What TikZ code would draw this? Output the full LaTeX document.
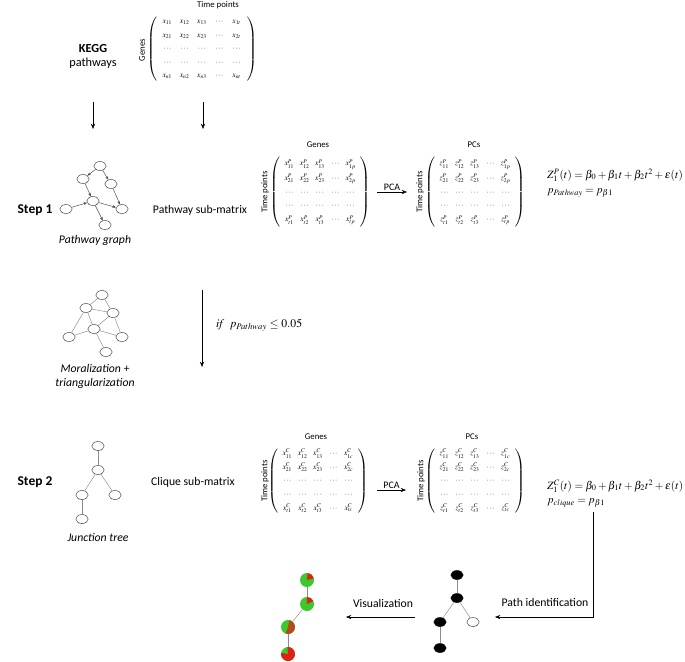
\documentclass[tikz,border=0pt]{standalone}
\usepackage{mathptmx}
\usepackage[no-math]{fontspec}
\setmainfont{Carlito}
\usetikzlibrary{positioning, arrows.meta, shapes.geometric, matrix}
\definecolor{piegreen}{HTML}{3CC82E}
\definecolor{piered}{HTML}{DD2216}
\definecolor{edgegray}{HTML}{8C8C8C}
\tikzset{
  txt/.style     = {font=\fontsize{10}{12}\selectfont, inner sep=1pt},
  steplbl/.style = {font=\fontsize{11.5}{13}\selectfont\bfseries, inner sep=1pt},
  capt/.style    = {font=\fontsize{10}{12}\selectfont\itshape, align=center, inner sep=1pt},
  axlbl/.style   = {font=\fontsize{7.5}{9}\selectfont, inner sep=1pt},
  eqn/.style     = {font=\fontsize{9.5}{10}\selectfont, anchor=west, inner sep=0pt},
  mat/.style     = {matrix of math nodes, left delimiter=(, right delimiter=),
                    inner sep=0pt,
                    nodes={font=\fontsize{6.5}{7}\selectfont, inner sep=0pt,
                           minimum width=0.46cm, minimum height=0.41cm}},
  gnode/.style   = {ellipse, draw=black!75, thin, minimum width=0.37cm,
                    minimum height=0.27cm, inner sep=0pt},
  bnode/.style   = {gnode, fill=black, draw=black},
  pie/.style     = {circle, fill=piegreen, minimum size=0.42cm, inner sep=0pt},
  gedge/.style   = {draw=edgegray, thin},
  garr/.style    = {draw=black!70, thin, -{Stealth[length=3pt,width=2.5pt]}},
  arr/.style     = {-{Stealth[length=4.5pt,width=3.5pt]}, thin, black},
}

\begin{document}
\begin{tikzpicture}[x=0.03cm, y=-0.03cm]
  \useasboundingbox (0,0) rectangle (685,661);

  % Top: KEGG pathways and the expression matrix
  \node[txt, font=\fontsize{10.5}{12.5}\selectfont\bfseries] (kegg) at (93,49) {KEGG};
  \node[txt, font=\fontsize{10.5}{12.5}\selectfont] (pathw) at (93,63) {pathways};

  \matrix[mat, nodes={minimum width=0.52cm, minimum height=0.4cm}] (mall) at (202,49) {
    x_{11} & x_{12} & x_{13} & \cdots & x_{1t} \\
    x_{21} & x_{22} & x_{23} & \cdots & x_{2t} \\
    \cdots & \cdots & \cdots & \cdots & \cdots \\
    \cdots & \cdots & \cdots & \cdots & \cdots \\
    x_{n1} & x_{n2} & x_{n3} & \cdots & x_{nt} \\
  };
  \node[axlbl] (tpall) at (218,5) {Time points};
  \node[axlbl, rotate=90] (gnall) at (142,50) {Genes};

  \coordinate (ka) at (93,102);
  \coordinate (kb) at (93,129);
  \coordinate (ma) at (203,102);
  \coordinate (mb) at (203,129);
  \draw[arr] (ka) -- (kb);
  \draw[arr] (ma) -- (mb);

  % Step 1
  \node[steplbl] (step1) at (35,210) {Step 1};

  \node[gnode] (pa) at (100,166) {};
  \node[gnode] (pb) at (83,179) {};
  \node[gnode] (pc) at (111,184) {};
  \node[gnode] (pd) at (93,201) {};
  \node[gnode] (pe) at (66,209) {};
  \node[gnode] (pf) at (122,209) {};
  \node[gnode] (pg) at (105,225) {};
  \draw[garr] (pa) -- (pb);
  \draw[garr] (pa) -- (pc);
  \draw[garr] (pb) -- (pd);
  \draw[garr] (pc) -- (pf);
  \draw[garr] (pe) -- (pd);
  \draw[garr] (pd) -- (pf);
  \draw[garr] (pd) -- (pg);
  \node[capt] (pgcap) at (95,240) {Pathway graph};

  \node[txt] (psub) at (200,210) {Pathway sub-matrix};

  \matrix[mat] (mp) at (320,192) {
    x^{P}_{11} & x^{P}_{12} & x^{P}_{13} & \cdots & x^{P}_{1p} \\
    x^{P}_{21} & x^{P}_{22} & x^{P}_{23} & \cdots & x^{P}_{2p} \\
    \cdots & \cdots & \cdots & \cdots & \cdots \\
    \cdots & \cdots & \cdots & \cdots & \cdots \\
    x^{P}_{t1} & x^{P}_{t2} & x^{P}_{t3} & \cdots & x^{P}_{tp} \\
  };
  \node[axlbl] (gnp) at (318,145) {Genes};
  \node[axlbl, rotate=90] (tpp) at (265,192) {Time points};

  \matrix[mat] (zp) at (475,192) {
    z^{P}_{11} & z^{P}_{12} & z^{P}_{13} & \cdots & z^{P}_{1p} \\
    z^{P}_{21} & z^{P}_{22} & z^{P}_{23} & \cdots & z^{P}_{2p} \\
    \cdots & \cdots & \cdots & \cdots & \cdots \\
    \cdots & \cdots & \cdots & \cdots & \cdots \\
    z^{P}_{t1} & z^{P}_{t2} & z^{P}_{t3} & \cdots & z^{P}_{tp} \\
  };
  \node[axlbl] (pcp) at (474,145) {PCs};
  \node[axlbl, rotate=90] (tpz) at (420,192) {Time points};

  \coordinate (pcaa) at (377,192);
  \coordinate (pcab) at (407,192);
  \draw[arr] (pcaa) -- node[above, axlbl, font=\fontsize{8.5}{10}\selectfont] (pcal) {PCA} (pcab);

  \node[eqn] (eqa) at (547,175) {$Z_1^P(t) = \beta_0 + \beta_1 t + \beta_2 t^2 + \varepsilon(t)$};
  \node[eqn] (eqb) at (547,193) {$p_{Pathway} = p_{\beta 1}$};

  % Moralization
  \node[gnode] (ma1) at (102,295) {};
  \node[gnode] (ma2) at (86,308) {};
  \node[gnode] (ma3) at (113,313) {};
  \node[gnode] (ma4) at (94,329) {};
  \node[gnode] (ma5) at (69,337) {};
  \node[gnode] (ma6) at (122,337) {};
  \node[gnode] (ma7) at (106,352) {};
  \draw[gedge] (ma1) -- (ma2);
  \draw[gedge] (ma1) -- (ma3);
  \draw[gedge] (ma2) -- (ma3);
  \draw[gedge] (ma2) -- (ma4);
  \draw[gedge] (ma2) -- (ma5);
  \draw[gedge] (ma3) -- (ma4);
  \draw[gedge] (ma3) -- (ma6);
  \draw[gedge] (ma5) -- (ma4);
  \draw[gedge] (ma4) -- (ma6);
  \draw[gedge] (ma4) -- (ma7);
  \node[capt] (macap) at (95,376) {Moralization +\\triangularization};

  \coordinate (ifa) at (202,290);
  \coordinate (ifb) at (202,367);
  \draw[arr] (ifa) -- (ifb);
  \node[eqn, font=\fontsize{10}{12}\selectfont] (iflbl) at (216,325) {$\mathit{if}\;\; p_{Pathway} \le 0.05$};

  % Step 2
  \node[steplbl] (step2) at (35,482) {Step 2};

  \node[gnode] (ja) at (98,446) {};
  \node[gnode] (jb) at (98,470) {};
  \node[gnode] (jc) at (82,495) {};
  \node[gnode] (jd) at (115,495) {};
  \node[gnode] (je) at (82,519) {};
  \draw[gedge] (ja) -- (jb);
  \draw[gedge] (jb) -- (jc);
  \draw[gedge] (jb) -- (jd);
  \draw[gedge] (jc) -- (je);
  \node[capt] (jcap) at (98,537) {Junction tree};

  \node[txt] (csub) at (193,482) {Clique sub-matrix};

  \matrix[mat, nodes={minimum height=0.4cm}] (mc) at (318,481) {
    x^{C}_{11} & x^{C}_{12} & x^{C}_{13} & \cdots & x^{C}_{1c} \\
    x^{C}_{21} & x^{C}_{22} & x^{C}_{23} & \cdots & x^{C}_{2c} \\
    \cdots & \cdots & \cdots & \cdots & \cdots \\
    \cdots & \cdots & \cdots & \cdots & \cdots \\
    x^{C}_{t1} & x^{C}_{t2} & x^{C}_{t3} & \cdots & x^{C}_{tc} \\
  };
  \node[axlbl] (gnc) at (316,437) {Genes};
  \node[axlbl, rotate=90] (tpc) at (265,481) {Time points};

  \matrix[mat, nodes={minimum height=0.4cm}] (zc) at (475,481) {
    z^{C}_{11} & z^{C}_{12} & z^{C}_{13} & \cdots & z^{C}_{1c} \\
    z^{C}_{21} & z^{C}_{22} & z^{C}_{23} & \cdots & z^{C}_{2c} \\
    \cdots & \cdots & \cdots & \cdots & \cdots \\
    \cdots & \cdots & \cdots & \cdots & \cdots \\
    z^{C}_{t1} & z^{C}_{t2} & z^{C}_{t3} & \cdots & z^{C}_{tc} \\
  };
  \node[axlbl] (pcc) at (472,437) {PCs};
  \node[axlbl, rotate=90] (tpzc) at (421,481) {Time points};

  \coordinate (pcac) at (377,490);
  \coordinate (pcad) at (406,490);
  \draw[arr] (pcac) -- node[above, axlbl, font=\fontsize{8.5}{10}\selectfont] (pcal2) {PCA} (pcad);

  \node[eqn] (eqc) at (547,486) {$Z_1^C(t) = \beta_0 + \beta_1 t + \beta_2 t^2 + \varepsilon(t)$};
  \node[eqn] (eqd) at (547,503) {$p_{clique} = p_{\beta 1}$};

  % Path identification
  \node[bnode] (ba) at (457,575) {};
  \node[bnode] (bb) at (457,598) {};
  \node[bnode] (bc) at (440,622) {};
  \node[gnode] (bd) at (473,622) {};
  \node[bnode] (be) at (440,648) {};
  \draw[gedge] (ba) -- (bb);
  \draw[gedge] (bb) -- (bc);
  \draw[gedge] (bb) -- (bd);
  \draw[gedge] (bc) -- (be);

  \coordinate (pida) at (593,512);
  \coordinate (pidb) at (495,617);
  \draw[arr] (pida) |- (pidb);
  \node[txt] (pidl) at (545,602) {Path identification};

  % Visualization
  \coordinate (visa) at (415,617);
  \coordinate (visb) at (346,617);
  \draw[arr] (visa) -- (visb);
  \node[txt] (visl) at (383,603) {Visualization};

  \foreach \nm/\px/\py in {qa/307/580, qb/307/604, qc/288/627, qd/288/654}
    \node[pie] (\nm) at (\px,\py) {};
  \draw[gedge] (qa) -- (qb);
  \draw[gedge] (qb) -- (qc);
  \draw[gedge] (qc) -- (qd);
  \fill[piered] (qa.center) -- ++(15:0.21cm) arc[start angle=15, end angle=85, radius=0.21cm] -- cycle;
  \fill[piered] (qb.center) -- ++(25:0.21cm) arc[start angle=25, end angle=92, radius=0.21cm] -- cycle;
  \fill[piered!75!piegreen] (qc.center) -- ++(-110:0.21cm) arc[start angle=-110, end angle=80, radius=0.21cm] -- cycle;
  \fill[piered] (qd.center) -- ++(170:0.21cm) arc[start angle=170, end angle=455, radius=0.21cm] -- cycle;

\end{tikzpicture}
\end{document}
